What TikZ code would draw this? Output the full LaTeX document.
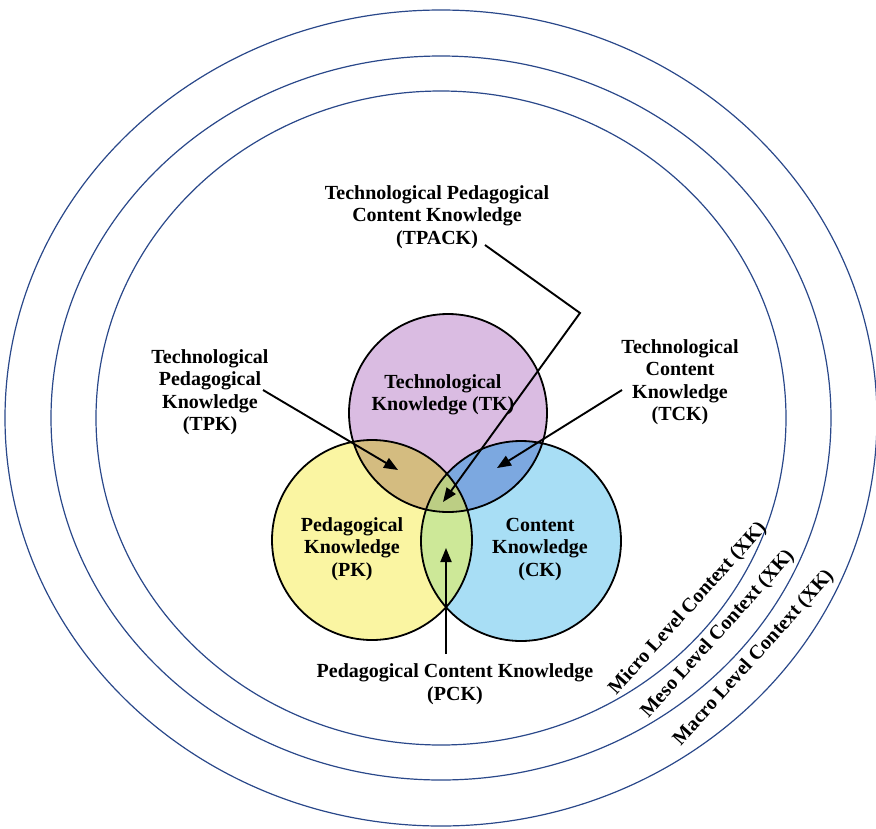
\documentclass[tikz,border=0pt]{standalone}
\usepackage{fontspec}
\setmainfont{Liberation Serif}
\usetikzlibrary{arrows.meta}

\definecolor{ringblue}{RGB}{42,72,138}
\definecolor{tkcol}{RGB}{218,188,226}
\definecolor{pkcol}{RGB}{250,245,162}
\definecolor{ckcol}{RGB}{168,222,245}
\definecolor{tpkcol}{RGB}{212,188,128}
\definecolor{tckcol}{RGB}{124,168,224}
\definecolor{pckcol}{RGB}{205,232,152}
\definecolor{tpackcol}{RGB}{188,206,132}

\begin{document}
\begin{tikzpicture}[
        x=1pt, y=-1pt,
        ring/.style={draw=ringblue, line width=1.2pt},
        venn/.style={draw=black, line width=1.8pt},
        lbl/.style={
        font=\bfseries\fontsize{20}{22.5}\selectfont,
        align=center,
        inner sep=0pt,
        },
        ctx/.style={font=\bfseries\fontsize{20}{22}\selectfont, rotate=48, inner sep=0pt},
        pointer/.style={line width=1.9pt, -{Triangle[length=14pt,width=11pt]}}
      ]
        \useasboundingbox (0,0) rectangle (876,828);

        \coordinate (o) at (441,418);
        \draw[ring] (o) ellipse [x radius=345pt, y radius=327pt];
        \draw[ring] (o) ellipse [x radius=390pt, y radius=362pt];
        \draw[ring] (o) ellipse [x radius=436pt, y radius=408pt];

        \coordinate (tkc) at (448,413);
        \coordinate (pkc) at (372,540);
        \coordinate (ckc) at (521,541);

        \fill[tkcol] (tkc) circle (99pt);
        \fill[pkcol] (pkc) circle (100pt);
        \fill[ckcol] (ckc) circle (100pt);
        \begin{scope}
          \clip (tkc) circle (99pt);
          \fill[tpkcol] (pkc) circle (100pt);
          \fill[tckcol] (ckc) circle (100pt);
          \clip (pkc) circle (100pt);
          \fill[tpackcol] (ckc) circle (100pt);
        \end{scope}
        \begin{scope}
          \clip (pkc) circle (100pt);
          \fill[pckcol] (ckc) circle (100pt);
          \clip (tkc) circle (99pt);
          \fill[tpackcol] (ckc) circle (100pt);
        \end{scope}
        \draw[venn] (tkc) circle (99pt);
        \draw[venn] (pkc) circle (100pt);
        \draw[venn] (ckc) circle (100pt);

        \node[lbl] (tk) at (443,395) {Technological\\Knowledge (TK)};
        \node[lbl] (pk) at (352,549) {Pedagogical\\Knowledge\\(PK)};
        \node[lbl] (ck) at (540,549) {Content\\Knowledge\\(CK)};

        \node[lbl] (tpack) at (437,217) {Technological Pedagogical\\Content Knowledge\\(TPACK)};
        \node[lbl] (tpk) at (210,392) {Technological\\Pedagogical\\Knowledge\\(TPK)};
        \node[lbl] (tck) at (680,382) {Technological\\Content\\Knowledge\\(TCK)};
        \node[lbl] (pck) at (455,684) {Pedagogical Content Knowledge\\(PCK)};

        \node[ctx] (micro) at (688,609) {Micro Level Context (XK)};
        \node[ctx] (meso) at (718,634) {Meso Level Context (XK)};
        \node[ctx] (macro) at (754,658) {Macro Level Context (XK)};

        \coordinate (tpackfoot) at (485,245);
        \coordinate (tpackbend) at (580,313);
        \coordinate (tpackpt) at (443,502);
        \coordinate (tpkfoot) at (263,390);
        \coordinate (tpkpt) at (398,470);
        \coordinate (tckfoot) at (622,390);
        \coordinate (tckpt) at (497,468);
        \coordinate (pckfoot) at (446,654);
        \coordinate (pckpt) at (446,548);

        \draw[pointer] (tpackfoot) -- (tpackbend) -- (tpackpt);
        \draw[pointer] (tpkfoot) -- (tpkpt);
        \draw[pointer] (tckfoot) -- (tckpt);
        \draw[pointer] (pckfoot) -- (pckpt);
      \end{tikzpicture}
\end{document}
